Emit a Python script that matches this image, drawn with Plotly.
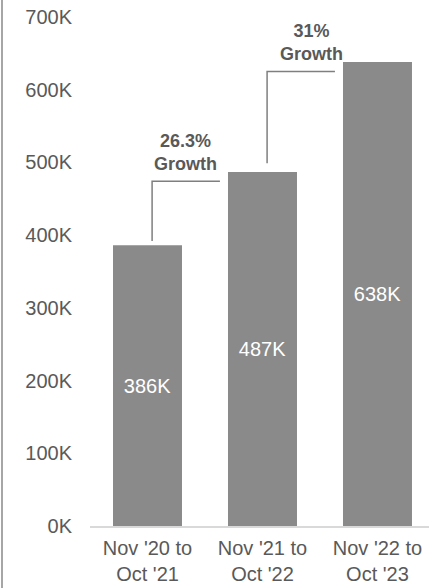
import plotly.graph_objects as go

# Data
categories = ["Nov '20 to<br>Oct '21", "Nov '21 to<br>Oct '22", "Nov '22 to<br>Oct '23"]
values_k = [386, 487, 638]
growth_labels = ["<b>26.3%<br>Growth</b>", "<b>31%<br>Growth</b>"]
y_ticks = [0, 100, 200, 300, 400, 500, 600, 700]

FONT = "Arial, Liberation Sans, sans-serif"
BAR = "#8a8a8a"
TXT = "#595959"
LINE = "#7f7f7f"

fig = go.Figure()
fig.add_trace(go.Bar(
    x=list(range(len(categories))), y=values_k,
    marker=dict(color=BAR, line=dict(width=0)),
    width=0.6,
    text=[f"{v}K" for v in values_k],
    textposition="inside", insidetextanchor="middle",
    textfont=dict(color="white", size=20, family=FONT),
    hoverinfo="skip",
))

# growth brackets
text_dx = [0.33, 0.43]
for i in range(len(values_k) - 1):
    lo, hi = values_k[i], values_k[i + 1]
    y0 = lo + 6 if i == 0 else lo + 12
    y1 = hi - 13
    fig.add_trace(go.Scatter(
        x=[i + 0.04, i + 0.04, i + 0.63],
        y=[y0, y1, y1],
        mode="lines", line=dict(color=LINE, width=1.5),
        hoverinfo="skip", showlegend=False,
    ))
    fig.add_annotation(
        x=i + text_dx[i], y=hi + 27, text=growth_labels[i],
        showarrow=False, xanchor="center", yanchor="middle",
        font=dict(size=18, color=TXT, family=FONT),
    )

fig.update_layout(
    width=429, height=588,
    margin=dict(l=90, r=0, t=17, b=62),
    plot_bgcolor="white", paper_bgcolor="white",
    showlegend=False,
    font=dict(family=FONT, color=TXT, size=20),
    xaxis=dict(
        range=[-0.5, 2.448], tickmode="array",
        tickvals=list(range(len(categories))), ticktext=categories,
        showgrid=False, zeroline=False,
        showline=True, linecolor="#d9d9d9", linewidth=2,
        ticks="", ticklabelstandoff=3,
        tickfont=dict(size=20, color=TXT, family=FONT),
    ),
    yaxis=dict(
        range=[0, 700], tickmode="array", tickvals=y_ticks,
        ticktext=[f"{t}K" for t in y_ticks],
        showgrid=False, zeroline=False, showline=False,
        ticks="", ticklabelstandoff=17,
        tickfont=dict(size=20, color=TXT, family=FONT),
    ),
    shapes=[dict(
        type="line", xref="paper", yref="paper",
        x0=(2 - 90) / 339, x1=(2 - 90) / 339,
        y0=-62 / 509, y1=1 + 17 / 509,
        line=dict(color="#a6a6a6", width=2),
    )],
)

fig.write_html(
    "out.html",
    config={"displayModeBar": False},
    post_script="document.body.style.margin='0px';document.body.style.padding='0px';",
)
